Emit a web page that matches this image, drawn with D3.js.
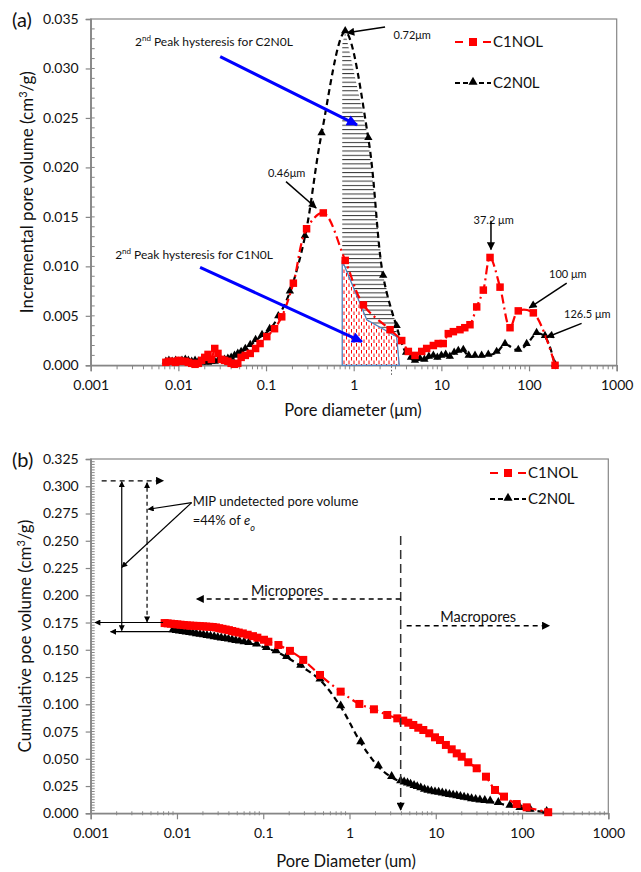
<!DOCTYPE html>
<html>
<head>
<meta charset="utf-8">
<title>Pore size distribution C1NOL / C2N0L</title>
<script src="https://cdn.jsdelivr.net/npm/d3@7"></script>
<style>
  body { margin: 0; background: #fff; }
  svg { font-family: Lato, "Liberation Sans", sans-serif; }
</style>
</head>
<body>
<div id="chart"></div>
<script>
// ---- data ----
var seriesNames = ["C1NOL", "C2N0L"];
var xTicks = [0.001, 0.01, 0.1, 1, 10, 100, 1000];
var incTicks = [0, 0.005, 0.010, 0.015, 0.020, 0.025, 0.030, 0.035];
var cumTicks = [0, 0.025, 0.050, 0.075, 0.100, 0.125, 0.150, 0.175, 0.200, 0.225, 0.250, 0.275, 0.300, 0.325];

// (a) incremental pore volume
var incDiamC1 = [0.0072,0.0078,0.0085,0.0093,0.0101,0.011,0.012,0.013,0.0142,0.0155,0.0169,0.0184,0.02,0.0218,0.0238,0.026,0.0283,0.0309,0.0337,0.0367,0.04,0.0437,0.0476,0.052,0.058,0.066,0.076,0.0855,0.102,0.125,0.151,0.205,0.29,0.45,0.80,1.29,2.6,3.53,4.2,5.0,5.97,6.8,8.1,9.2,10.5,12.0,13.7,16.3,18.5,21.2,25.3,30.1,35.9,46.7,60.7,75.4,112,198];
var incVolC1  = [0.0003,0.0004,0.0004,0.0003,0.0005,0.0004,0.0004,0.0003,0.0002,0.0001,0.0002,0.0005,0.0008,0.0011,0.0006,0.0017,0.0012,0.0006,0.0005,0.0004,0.0002,0.0001,0.0002,0.0008,0.0010,0.0012,0.0017,0.0022,0.0029,0.0037,0.0049,0.0083,0.0138,0.0154,0.0106,0.0061,0.0036,0.0025,0.0014,0.0010,0.0014,0.0017,0.0020,0.0022,0.0022,0.0032,0.0034,0.0036,0.0038,0.0041,0.0059,0.0076,0.0109,0.0079,0.0038,0.0055,0.0053,0.0000];
var incDiamC2 = [0.0072,0.0078,0.0085,0.0093,0.0101,0.011,0.012,0.013,0.0142,0.0155,0.0169,0.0184,0.02,0.0218,0.0238,0.026,0.0283,0.0309,0.0337,0.0367,0.04,0.0437,0.0476,0.052,0.058,0.066,0.076,0.09,0.11,0.138,0.187,0.278,0.43,0.80,1.47,2.17,3.09,3.96,4.5,5.0,5.7,6.4,7.2,8.1,9.0,10.0,11.2,12.5,14.0,15.6,17.8,20.5,24.2,28.8,34.3,42.7,53.2,75.4,94,122,152,198];
var incVolC2  = [0.0003,0.0004,0.0003,0.0004,0.0003,0.0004,0.0005,0.0004,0.0003,0.0004,0.0003,0.0002,0.0003,0.0002,0.0003,0.0003,0.0004,0.0004,0.0005,0.0006,0.0007,0.0009,0.0011,0.0013,0.0016,0.0020,0.0025,0.0030,0.0036,0.0049,0.0074,0.0130,0.0234,0.0337,0.0229,0.0090,0.0039,0.0012,0.0007,0.0004,0.0006,0.0005,0.0008,0.0009,0.0007,0.0009,0.0010,0.0008,0.0012,0.0014,0.0015,0.0009,0.0009,0.0009,0.0010,0.0013,0.0021,0.0015,0.0021,0.0032,0.0029,0.0000];

// hysteresis regions of (a): C1NOL polygon (blue outline) and its top edge
var hystDiamC1 = [0.74, 1.41, 3.09, 3.31];
var hystVolC1  = [0.0106, 0.0046, 0.0029, 0.0];
var hystStartC2 = 0.74;
var cutoffDiam = 2.7;

// (b) cumulative pore volume
var cumDiamC1 = [0.0072,0.0078,0.0085,0.0093,0.0101,0.011,0.012,0.013,0.0142,0.0155,0.0169,0.0184,0.02,0.0218,0.0238,0.026,0.0283,0.0309,0.0337,0.0367,0.04,0.0437,0.0476,0.052,0.058,0.066,0.076,0.0855,0.102,0.1146,0.150,0.204,0.291,0.455,0.79,1.30,1.92,2.74,3.58,4.2,4.8,5.49,6.27,7.17,8.41,9.8,11.2,13.1,15.3,17.5,20.0,23.8,29.8,38.2,48.6,61.8,86.7,113,201];
var cumVolC1  = [0.1745,0.1742,0.1739,0.1736,0.1733,0.1730,0.1727,0.1724,0.1722,0.1720,0.1719,0.1717,0.1715,0.1713,0.1711,0.1709,0.1705,0.1698,0.1692,0.1686,0.1680,0.1672,0.1665,0.1658,0.1650,0.1638,0.1625,0.1611,0.1592,0.1574,0.1544,0.1490,0.1407,0.1269,0.1116,0.1003,0.0954,0.0902,0.0871,0.0850,0.0831,0.0810,0.0785,0.0764,0.0734,0.0697,0.0672,0.0627,0.0587,0.0550,0.0519,0.0468,0.0413,0.0336,0.0214,0.0153,0.0085,0.0055,0.0010];
var cumDiamC2 = [0.009,0.0098,0.0107,0.0117,0.0128,0.014,0.0153,0.0168,0.0185,0.0203,0.0223,0.0245,0.027,0.0297,0.0326,0.036,0.0395,0.0435,0.048,0.053,0.06,0.068,0.0839,0.109,0.141,0.187,0.272,0.455,0.79,1.35,2.16,3.08,3.92,4.3,4.7,5.1,5.6,6.1,6.7,7.4,8.1,8.9,9.8,10.8,11.9,13.1,14.4,15.9,17.5,19.3,21.3,23.5,26,29,32.5,37,42.7,53.1,72.5,94.6,124,193];
var cumVolC2  = [0.1675,0.1670,0.1665,0.1660,0.1655,0.1650,0.1645,0.1640,0.1634,0.1629,0.1624,0.1618,0.1612,0.1606,0.1601,0.1596,0.1590,0.1584,0.1578,0.1572,0.1565,0.1558,0.1544,0.1514,0.1483,0.1431,0.1351,0.1223,0.0978,0.0648,0.0428,0.0330,0.0290,0.0280,0.0271,0.0260,0.0248,0.0237,0.0226,0.0212,0.0203,0.0196,0.0189,0.0185,0.0179,0.0172,0.0165,0.0159,0.0153,0.0146,0.0140,0.0134,0.0126,0.0120,0.0115,0.0110,0.0105,0.0092,0.0067,0.0046,0.0030,0.0010];

var boundaryDiam = 3.92;

// ---- drawing ----
var svg = d3.select("#chart").append("svg").attr("width", 641).attr("height", 872);
var defs = svg.append("defs");

function arrowMarker(id, color, w, h) {
  defs.append("marker").attr("id", id)
    .attr("viewBox", "0 0 10 10").attr("refX", 9).attr("refY", 5)
    .attr("markerUnits", "userSpaceOnUse")
    .attr("markerWidth", w).attr("markerHeight", h)
    .attr("orient", "auto-start-reverse")
    .append("path").attr("d", "M0,0L10,5L0,10z").attr("fill", color);
}
arrowMarker("ah", "#000", 10, 8);
arrowMarker("ahs", "#000", 7, 6);
arrowMarker("ahb", "#0000ff", 13, 11);

var hp = defs.append("pattern").attr("id", "hlines").attr("patternUnits", "userSpaceOnUse")
  .attr("width", 8).attr("height", 4.3);
hp.append("line").attr("x1", 0).attr("x2", 8).attr("y1", 0.5).attr("y2", 0.5)
  .attr("stroke", "#333").attr("stroke-width", 1);
// staggered red dashes
var rp = defs.append("pattern").attr("id", "rdash").attr("patternUnits", "userSpaceOnUse")
  .attr("width", 5).attr("height", 7);
rp.append("line").attr("x1", 1.5).attr("x2", 1.5).attr("y1", 0).attr("y2", 3.5)
  .attr("stroke", "#ff0000").attr("stroke-width", 1);
rp.append("line").attr("x1", 4).attr("x2", 4).attr("y1", 3.5).attr("y2", 7)
  .attr("stroke", "#ff0000").attr("stroke-width", 1);

function zip(a, b) { return a.map(function(v, i) { return [v, b[i]]; }); }

function minorLog() {
  var out = [];
  for (var e = -3; e < 3; e++) for (var m = 2; m <= 9; m++) out.push(m * Math.pow(10, e));
  return out;
}

function panel(cfg) {
  var x = d3.scaleLog().domain([0.001, 1000]).range([cfg.left, cfg.right]);
  var y = d3.scaleLinear().domain([0, cfg.yMax]).range([cfg.bottom, cfg.top]);
  var g = svg.append("g");

  g.append("rect").attr("x", cfg.left).attr("y", cfg.top)
    .attr("width", cfg.right - cfg.left).attr("height", cfg.bottom - cfg.top)
    .attr("fill", "none").attr("stroke", "#868686").attr("stroke-width", 1.2);

  var ya = g.append("g").attr("transform", "translate(" + cfg.left + ",0)")
    .call(d3.axisLeft(y).tickValues(cfg.yTicks).tickFormat(d3.format(".3f")).tickSize(5).tickPadding(7));
  var xa = g.append("g").attr("transform", "translate(0," + cfg.bottom + ")")
    .call(d3.axisBottom(x).tickValues(xTicks).tickFormat(d3.format("~g")).tickSize(6).tickPadding(9));
  [ya, xa].forEach(function(a) {
    a.attr("font-family", null).attr("font-size", null);
    a.select(".domain").attr("stroke", "#868686").attr("stroke-width", 1.5);
    a.selectAll(".tick line").attr("stroke", "#868686").attr("stroke-width", 1.2);
    a.selectAll(".tick text").attr("fill", "#111").style("font-size", "14px");
  });

  var minorY = [];
  for (var v = cfg.yMinor; v < cfg.yMax - 1e-9; v += cfg.yMinor) minorY.push(v);
  g.selectAll(".my").data(minorY).enter().append("line")
    .attr("x1", cfg.left).attr("x2", cfg.left + 4)
    .attr("y1", function(d) { return y(d); }).attr("y2", function(d) { return y(d); })
    .attr("stroke", "#868686");
  g.selectAll(".mx").data(minorLog()).enter().append("line")
    .attr("x1", function(d) { return x(d); }).attr("x2", function(d) { return x(d); })
    .attr("y1", cfg.bottom - cfg.minorUp).attr("y2", cfg.bottom + 4 - cfg.minorUp)
    .attr("stroke", "#868686");

  g.append("text").attr("transform", "translate(" + cfg.yTitleX + "," + ((cfg.top + cfg.bottom) / 2) + ") rotate(-90)")
    .attr("text-anchor", "middle").style("font-size", "17px").attr("fill", "#111")
    .call(function(t) {
      t.append("tspan").text(cfg.yTitle + " (cm");
      t.append("tspan").attr("baseline-shift", "super").style("font-size", "11px").text("3");
      t.append("tspan").text("/g)");
    });
  g.append("text").attr("x", cfg.xTitleX).attr("y", cfg.xTitleY).attr("text-anchor", "middle")
    .style("font-size", "16.5px").attr("fill", "#111").text(cfg.xTitle);
  g.append("text").attr("x", 12).attr("y", cfg.top + 8).style("font-size", "20px").attr("fill", "#111").text(cfg.tag);

  return { g: g, x: x, y: y };
}

function series(p, diam, vol, kind, sq, tri, curve) {
  var pts = zip(diam, vol);
  var line = d3.line().x(function(d) { return p.x(d[0]); }).y(function(d) { return p.y(d[1]); }).curve(curve);
  var red = kind === 0;
  p.g.append("path").attr("d", line(pts)).attr("fill", "none")
    .attr("stroke", red ? "#ff0000" : "#000").attr("stroke-width", 2.2)
    .attr("stroke-dasharray", red ? "9,4,2,4" : "6,4");
  if (red) {
    p.g.selectAll(null).data(pts).enter().append("rect")
      .attr("x", function(d) { return p.x(d[0]) - sq / 2; }).attr("y", function(d) { return p.y(d[1]) - sq / 2; })
      .attr("width", sq).attr("height", sq).attr("fill", "#ff0000");
  } else {
    p.g.selectAll(null).data(pts).enter().append("path")
      .attr("d", d3.symbol(d3.symbolTriangle, tri))
      .attr("transform", function(d) { return "translate(" + p.x(d[0]) + "," + (p.y(d[1]) - 1) + ")"; })
      .attr("fill", "#000");
  }
}

function legend(g, x0, ys, sq, tri) {
  seriesNames.forEach(function(name, i) {
    var yy = ys[i];
    g.append("line").attr("x1", x0).attr("x2", x0 + 36).attr("y1", yy).attr("y2", yy)
      .attr("stroke", i === 0 ? "#ff0000" : "#000").attr("stroke-width", 2.2)
      .attr("stroke-dasharray", i === 0 ? "8,6" : "5,3");
    if (i === 0) g.append("rect").attr("x", x0 + 18 - sq / 2).attr("y", yy - sq / 2).attr("width", sq).attr("height", sq).attr("fill", "#ff0000");
    else g.append("path").attr("d", d3.symbol(d3.symbolTriangle, tri)).attr("transform", "translate(" + (x0 + 18) + "," + (yy - 1) + ")").attr("fill", "#000");
    g.append("text").attr("x", x0 + 38).attr("y", yy).attr("dy", "0.35em").style("font-size", "15px").attr("fill", "#111").text(name);
  });
}

function arrow(p, a, b, opts) {
  opts = opts || {};
  var l = p.g.append("line")
    .attr("x1", p.x(a[0])).attr("y1", p.y(a[1])).attr("x2", p.x(b[0])).attr("y2", p.y(b[1]))
    .attr("stroke", opts.color || "#000").attr("stroke-width", opts.width || 1.5)
    .attr("marker-end", "url(#" + (opts.marker || "ah") + ")");
  if (opts.dash) l.attr("stroke-dasharray", opts.dash);
  return l;
}

function label(p, at, txt, size, anchor) {
  return p.g.append("text").attr("x", p.x(at[0])).attr("y", p.y(at[1]))
    .attr("text-anchor", anchor || "start").style("font-size", size + "px").attr("fill", "#111").text(txt);
}

// ---------- panel (a) ----------
var pa = panel({ left: 90.7, right: 616.7, top: 19, bottom: 365.3, yMax: 0.035, yTicks: incTicks, yMinor: 0.001,
  minorUp: 0, yTitle: "Incremental pore volume", yTitleX: 33, xTitle: "Pore diameter (\u03bcm)", xTitleX: 353, xTitleY: 416, tag: "(a)" });

var smooth = d3.curveCatmullRom.alpha(0.5);
var c1a = zip(incDiamC1, incVolC1), c2a = zip(incDiamC2, incVolC2);
var hystC1 = zip(hystDiamC1, hystVolC1);

// hatched area between C2N0L and C1NOL after the main peak
(function() {
  var lo = d3.bisectLeft(incDiamC2, hystStartC2);
  var a0 = c2a[lo - 1], a1 = c2a[lo];
  var t = (Math.log(hystStartC2) - Math.log(a0[0])) / (Math.log(a1[0]) - Math.log(a0[0]));
  var top = [[hystStartC2, a0[1] + t * (a1[1] - a0[1])]];
  c2a.forEach(function(d) { if (d[0] > hystStartC2 && d[0] <= hystDiamC1[2]) top.push(d); });
  var poly = top.concat(hystC1.slice(0, 3).reverse());
  var ln = d3.line().x(function(d) { return pa.x(d[0]); }).y(function(d) { return pa.y(d[1]); });
  pa.g.append("path").attr("d", ln.curve(d3.curveLinearClosed)(poly)).attr("fill", "url(#hlines)").attr("stroke", "none");
  var closed = hystC1.concat([[hystDiamC1[0], 0]]);
  pa.g.append("path").attr("d", ln.curve(d3.curveLinearClosed)(closed))
    .attr("fill", "url(#rdash)").attr("stroke", "#4f81bd").attr("stroke-width", 1.3);
  pa.g.append("line").attr("x1", pa.x(cutoffDiam)).attr("x2", pa.x(cutoffDiam))
    .attr("y1", pa.y(0) + 1).attr("y2", pa.y(0) + 11).attr("stroke", "#555").attr("stroke-dasharray", "1.5,2");
})();

series(pa, incDiamC2, incVolC2, 1, 7, 30, smooth);
series(pa, incDiamC1, incVolC1, 0, 7.5, 30, smooth);
legend(pa.g, 455, [42, 83], 8, 36);

// annotations (a)
var t1 = label(pa, [0.0032, 0.0323], "2", 12);
t1.append("tspan").attr("baseline-shift", "super").style("font-size", "8px").text("nd");
t1.append("tspan").text(" Peak hysteresis for C2N0L");
arrow(pa, [0.030, 0.0312], [1.09, 0.0243], { color: "#0000ff", width: 3, marker: "ahb" });
var t2 = label(pa, [0.0019, 0.0107], "2", 12);
t2.append("tspan").attr("baseline-shift", "super").style("font-size", "8px").text("nd");
t2.append("tspan").text(" Peak hysteresis for C1N0L");
arrow(pa, [0.0177, 0.0099], [1.24, 0.0024], { color: "#0000ff", width: 3, marker: "ahb" });
label(pa, [2.85, 0.0330], "0.72\u03bcm", 11);
arrow(pa, [2.28, 0.0342], [0.84, 0.0336]);
label(pa, [0.105, 0.0190], "0.46\u03bcm", 11);
arrow(pa, [0.169, 0.01856], [0.373, 0.0159]);
label(pa, [39.5, 0.0143], "37.2 \u03bcm", 11, "middle");
arrow(pa, [36.8, 0.0146], [36.8, 0.0117]);
label(pa, [169, 0.0088], "100 \u03bcm", 11);
arrow(pa, [269, 0.0083], [100.7, 0.0058]);
label(pa, [251, 0.0048], "126.5 \u03bcm", 11);
arrow(pa, [398, 0.00424], [159, 0.00283]);

// ---------- panel (b) ----------
var pb = panel({ left: 90.7, right: 608.3, top: 459, bottom: 813.3, yMax: 0.325, yTicks: cumTicks, yMinor: 0.0025,
  minorUp: 2, yTitle: "Cumulative poe volume", yTitleX: 31, xTitle: "Pore Diameter (um)", xTitleX: 346, xTitleY: 867, tag: "(b)" });

series(pb, cumDiamC2, cumVolC2, 1, 8, 36, smooth);
series(pb, cumDiamC1, cumVolC1, 0, 8, 36, smooth);
legend(pb.g, 490, [473, 499], 8, 36);

// pore class boundary and arrows
arrow(pb, [boundaryDiam, 0.2544], [boundaryDiam, 0.003], { dash: "9,5", width: 1.5, color: "#333" });
arrow(pb, [boundaryDiam, 0.1966], [0.0169, 0.1966], { dash: "5,4", width: 1.4 });
label(pb, [0.189, 0.1996], "Micropores", 14.5, "middle");
arrow(pb, [4.6, 0.1721], [207, 0.1721], { dash: "5,4", width: 1.4 });
label(pb, [31, 0.1756], "Macropores", 14.5, "middle");

// MIP undetected pore volume
arrow(pb, [0.00134, 0.305], [0.00694, 0.305], { dash: "5,4", width: 1.3 });
arrow(pb, [0.00229, 0.2265], [0.00229, 0.3042], { marker: "ahs", width: 1.2 });
arrow(pb, [0.00229, 0.2265], [0.00229, 0.1676], { marker: "ahs", width: 1.2 });
arrow(pb, [0.0045, 0.25], [0.0045, 0.3033], { marker: "ahs", width: 1.2, dash: "4,3" });
arrow(pb, [0.0045, 0.25], [0.0045, 0.1755], { marker: "ahs", width: 1.2, dash: "4,3" });
arrow(pb, [0.0069, 0.175], [0.00112, 0.175], { marker: "ahs", width: 1.2 });
arrow(pb, [0.009, 0.1666], [0.00170, 0.1666], { marker: "ahs", width: 1.2 });
arrow(pb, [0.0148, 0.285], [0.00465, 0.2789], { marker: "ahs", width: 1.2 });
arrow(pb, [0.0148, 0.285], [0.00229, 0.2257], { marker: "ahs", width: 1.2 });
label(pb, [0.0152, 0.2815], "MIP undetected pore volume", 13);
var t3 = label(pb, [0.0152, 0.2648], "=44% of ", 13);
t3.append("tspan").style("font-style", "italic").text("e");
t3.append("tspan").style("font-style", "italic").style("font-size", "9px").attr("baseline-shift", "sub").text("o");
</script>
</body>
</html>
